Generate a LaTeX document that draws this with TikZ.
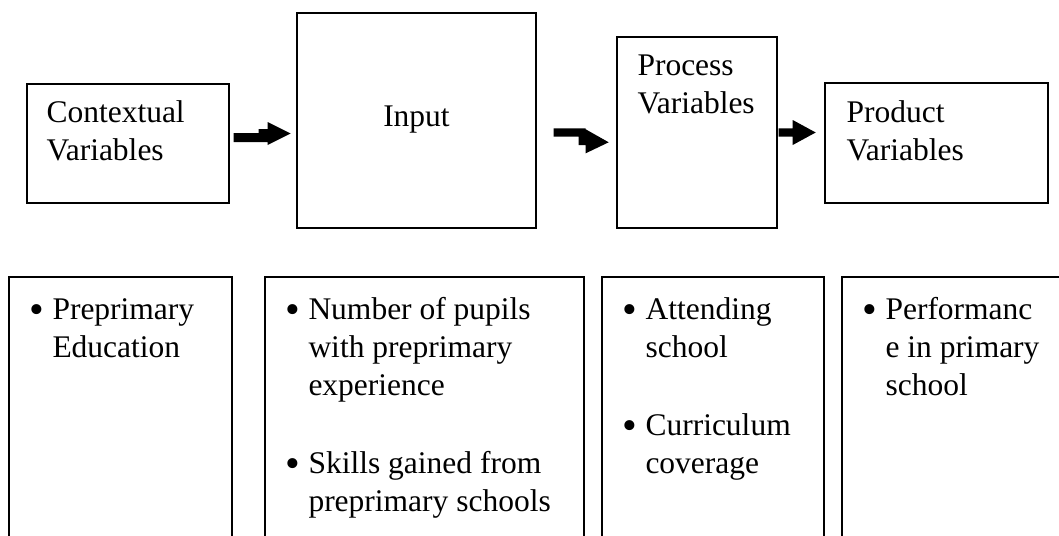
\documentclass[tikz,border=0pt]{standalone}
\usepackage{fontspec}
\setmainfont{Liberation Serif}
\usetikzlibrary{calc}
\tikzset{
  box/.style={draw, line width=1.4pt, inner sep=0pt},
  lbl/.style={anchor=base west, inner sep=0pt, align=left, font=\fontsize{31.5}{38}\selectfont},
  bul/.style={anchor=base west, inner sep=0pt, font=\fontsize{42}{42}\selectfont},
  blockarr/.style={fill=black}
}

\begin{document}
\begin{tikzpicture}[x=1pt, y=-1pt]
\useasboundingbox (0,0) rectangle (1059,535);
\clip (0,0) rectangle (1059,535);
% top row
\node[box, minimum width=202pt, minimum height=119pt] (ctx) at (128,143.5) {};
\node[box, minimum width=239pt, minimum height=215pt] (inp) at (416.5,120.5) {};
\node[box, minimum width=160pt, minimum height=191pt] (proc) at (697,132.5) {};
\node[box, minimum width=223pt, minimum height=120pt] (prod) at (936.5,143) {};
% base of a node is its last line
\node[lbl] (ctxtext) at ($(ctx.north west)+(20,77)$) {Contextual\\Variables};
\node[lbl, anchor=base] (inptext) at ($(inp.north)+(0,114)$) {Input};
\node[lbl] (proctext) at ($(proc.north west)+(21,77)$) {Process\\Variables};
\node[lbl] (prodtext) at ($(prod.north west)+(22,78)$) {Product\\Variables};
\fill[blockarr] ($(ctx.east)+(4,-10.5)$) -- ++(25,0) -- ++(0,-4) -- ++(9,0) -- ++(0,-7)
  -- ++(23,11.5) -- ++(-23,11.5) -- ++(0,-3) -- ++(-34,0) -- cycle;
\fill[blockarr] ($(inp.east)+(17,7.8)$) -- ++(32,0) -- ++(0,1) -- ++(23,13) -- ++(-23,11)
  -- ++(0,-8.3) -- ++(-7,0) -- ++(0,-8.3) -- ++(-25,0) -- cycle;
\fill[blockarr] ($(proc.east)+(1,-4.2)$) -- ++(14,0) -- ++(0,-8.3) -- ++(23,12.5) -- ++(-23,12.5)
  -- ++(0,-8.3) -- ++(-14,0) -- cycle;
% bottom row, open at the foot
\node[box, minimum width=223pt, minimum height=323pt] (ctxlist) at (120.5,438.5) {};
\node[box, minimum width=319pt, minimum height=323pt] (inplist) at (424.5,438.5) {};
\node[box, minimum width=222pt, minimum height=323pt] (proclist) at (713,438.5) {};
\node[box, minimum width=258pt, minimum height=323pt] (prodlist) at (971,438.5) {};
\node[bul] (ctxb1) at ($(ctxlist.north west)+(21,47)$) {\textbullet};
\node[lbl] (ctxi1) at ($(ctxlist.north west)+(44,81)$) {Preprimary\\Education};
\node[bul] (inpb1) at ($(inplist.north west)+(21,47)$) {\textbullet};
\node[lbl] (inpi1) at ($(inplist.north west)+(44,119)$) {Number of pupils\\with preprimary\\experience};
\node[bul] (inpb2) at ($(inplist.north west)+(21,201)$) {\textbullet};
\node[lbl] (inpi2) at ($(inplist.north west)+(44,235)$) {Skills gained from\\preprimary schools};
\node[bul] (procb1) at ($(proclist.north west)+(21,47)$) {\textbullet};
\node[lbl] (proci1) at ($(proclist.north west)+(44,81)$) {Attending\\school};
\node[bul] (procb2) at ($(proclist.north west)+(21,163)$) {\textbullet};
\node[lbl] (proci2) at ($(proclist.north west)+(44,197)$) {Curriculum\\coverage};
\node[bul] (prodb1) at ($(prodlist.north west)+(21,47)$) {\textbullet};
\node[lbl] (prodi1) at ($(prodlist.north west)+(44,119)$) {Performanc\\e in primary\\school};
\end{tikzpicture}
\end{document}
